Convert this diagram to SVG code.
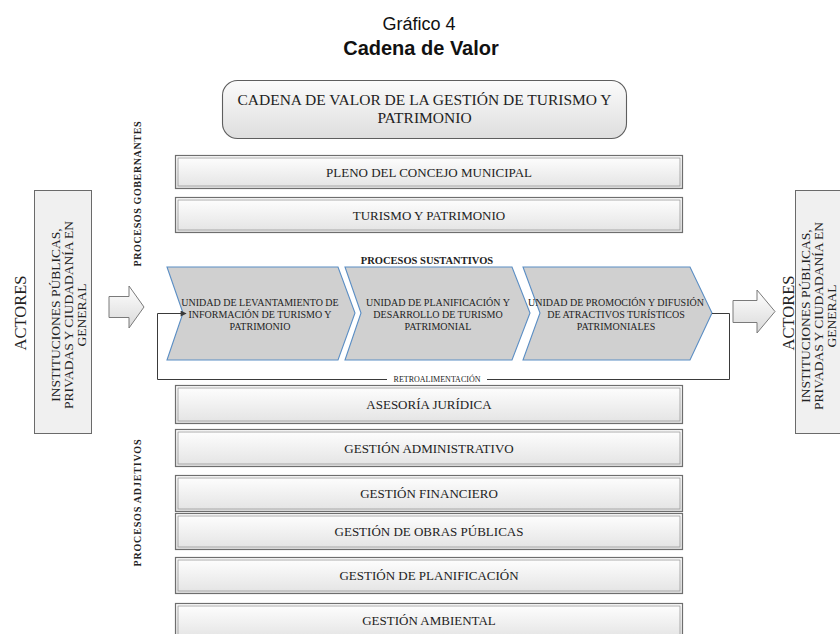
<svg xmlns="http://www.w3.org/2000/svg" width="840" height="634" viewBox="0 0 840 634">
<style>
.serif{font-family:"Liberation Serif","Times New Roman",serif;fill:#222}
.sans{font-family:"Liberation Sans",Arial,sans-serif;fill:#111}
.box{fill:url(#boxGrad);stroke:#6e6e6e;stroke-width:1.2}
.inner{fill:none;stroke:#9a9a9a;stroke-width:0.8}
.bt{font-size:13px;text-anchor:middle}
.chev{fill:#d0d0d0;stroke:#5b8ec4;stroke-width:1.1}
.ct{font-size:10px;text-anchor:middle}
.blk{fill:url(#arrGrad);stroke:#7a7a7a;stroke-width:1}
.actor{fill:#f0f0f0;stroke:#6a6a6a;stroke-width:1}
.vt{text-anchor:middle}
.fb{fill:none;stroke:#3a3a3a;stroke-width:1}
</style>
<defs>
<linearGradient id="boxGrad" x1="0" y1="0" x2="0" y2="1">
<stop offset="0" stop-color="#ffffff"/><stop offset="1" stop-color="#e3e3e3"/>
</linearGradient>
<linearGradient id="rrGrad" x1="0" y1="0" x2="0" y2="1">
<stop offset="0" stop-color="#fbfbfb"/><stop offset="1" stop-color="#dedede"/>
</linearGradient>
<linearGradient id="arrGrad" x1="0" y1="0" x2="0" y2="1">
<stop offset="0" stop-color="#ffffff"/><stop offset="1" stop-color="#d9d9d9"/>
</linearGradient>
<marker id="ah" viewBox="0 0 10 10" refX="9" refY="5" markerWidth="7" markerHeight="6" orient="auto" markerUnits="userSpaceOnUse">
<path d="M0,0 L10,5 L0,10 Z" fill="#3a3a3a"/>
</marker>
</defs>
<rect width="840" height="634" fill="#ffffff"/>

<g id="title">
<text class="sans" x="419" y="30" font-size="18" text-anchor="middle">Gráfico 4</text>
<text class="sans" x="421" y="55" font-size="20" font-weight="bold" text-anchor="middle">Cadena de Valor</text>
</g>

<g id="header">
<rect x="222.5" y="80.5" width="404" height="58" rx="15" ry="15" fill="url(#rrGrad)" stroke="#5e5e5e" stroke-width="1.1"/>
<text class="serif" x="424.5" y="105" font-size="15.5" text-anchor="middle">CADENA DE VALOR DE LA GESTIÓN DE TURISMO Y</text>
<text class="serif" x="424.5" y="123" font-size="15.5" text-anchor="middle">PATRIMONIO</text>
</g>

<g id="label-gobernantes">
<text class="serif vt" transform="translate(141,194) rotate(-90)" font-size="10" font-weight="bold" textLength="145" lengthAdjust="spacing">PROCESOS GOBERNANTES</text>
</g>
<g id="label-adjetivos">
<text class="serif vt" transform="translate(141,503) rotate(-90)" font-size="10" font-weight="bold" textLength="127" lengthAdjust="spacing">PROCESOS  ADJETIVOS</text>
</g>
<g id="label-sustantivos">
<text class="serif" x="427" y="263.5" font-size="10.5" font-weight="bold" text-anchor="middle">PROCESOS SUSTANTIVOS</text>
</g>

<g id="pleno">
<rect class="box" x="175.5" y="155.5" width="507" height="33"/>
<rect class="inner" x="178" y="158" width="502" height="28"/>
<text class="serif bt" x="429" y="176.5">PLENO DEL CONCEJO MUNICIPAL</text>
</g>
<g id="turismo">
<rect class="box" x="175.5" y="197.5" width="507" height="35"/>
<rect class="inner" x="178" y="200" width="502" height="30"/>
<text class="serif bt" x="429" y="220">TURISMO Y PATRIMONIO</text>
</g>

<g id="actores-left">
<text class="serif vt" transform="translate(26,313) rotate(-90)" font-size="16.5">ACTORES</text>
<rect class="actor" x="34.5" y="190.5" width="57" height="243"/>
<text class="serif vt" transform="translate(60,315) rotate(-90)" font-size="13.5">INSTITUCIONES PÚBLICAS,</text>
<text class="serif vt" transform="translate(73,315) rotate(-90)" font-size="13.5">PRIVADAS Y CIUDADANÍA EN</text>
<text class="serif vt" transform="translate(85.5,315) rotate(-90)" font-size="13.5">GENERAL</text>
</g>

<g id="actores-right">
<text class="serif vt" transform="translate(794,313) rotate(-90)" font-size="16.5">ACTORES</text>
<rect class="actor" x="795.5" y="190.5" width="60" height="243"/>
<text class="serif vt" transform="translate(809.5,316) rotate(-90)" font-size="13.5">INSTITUCIONES PÚBLICAS,</text>
<text class="serif vt" transform="translate(823,316) rotate(-90)" font-size="13.5">PRIVADAS Y CIUDADANÍA EN</text>
<text class="serif vt" transform="translate(836,316) rotate(-90)" font-size="13.5">GENERAL</text>
</g>

<g id="chevron-1">
<path class="chev" d="M167,267 L338,267 L355,313 L338,360 L167,360 L183,313 Z"/>
<text class="serif ct" x="260" y="305.5">UNIDAD DE LEVANTAMIENTO DE</text>
<text class="serif ct" x="260" y="317.5">INFORMACIÓN DE TURISMO Y</text>
<text class="serif ct" x="260" y="329.5">PATRIMONIO</text>
</g>
<g id="chevron-2">
<path class="chev" d="M345,267 L512,267 L530,313 L512,360 L345,360 L361,313 Z"/>
<text class="serif ct" x="438" y="305.5">UNIDAD DE PLANIFICACIÓN Y</text>
<text class="serif ct" x="438" y="317.5">DESARROLLO DE TURISMO</text>
<text class="serif ct" x="438" y="329.5">PATRIMONIAL</text>
</g>
<g id="chevron-3">
<path class="chev" d="M523,267 L690,267 L712,313 L690,360 L523,360 L540,313 Z"/>
<text class="serif ct" x="616" y="305.5">UNIDAD DE PROMOCIÓN Y DIFUSIÓN</text>
<text class="serif ct" x="616" y="317.5">DE ATRACTIVOS TURÍSTICOS</text>
<text class="serif ct" x="616" y="329.5">PATRIMONIALES</text>
</g>

<g id="connectors">
<path class="blk" d="M109,296.5 H129 V286 L144,307 L129,328 V317.5 H109 Z"/>
<path class="blk" d="M733,300.5 H757 V290 L775,311.5 L757,333 V322.5 H733 Z"/>
<path class="fb" d="M712,313.5 H729.5 V379.5 H157.5 V313.5 H186" marker-end="url(#ah)"/>
<rect x="387" y="374" width="100" height="10" fill="#ffffff"/>
<text class="serif" x="437" y="382" font-size="8" text-anchor="middle">RETROALIMENTACIÓN</text>
</g>

<g id="asesoria">
<rect class="box" x="175.5" y="385.5" width="507" height="38"/>
<rect class="inner" x="178" y="388" width="502" height="33"/>
<text class="serif bt" x="429" y="408.5">ASESORÍA JURÍDICA</text>
</g>
<g id="administrativo">
<rect class="box" x="175.5" y="429.5" width="507" height="37"/>
<rect class="inner" x="178" y="432" width="502" height="32"/>
<text class="serif bt" x="429" y="452.5">GESTIÓN ADMINISTRATIVO</text>
</g>
<g id="financiero">
<rect class="box" x="175.5" y="475.5" width="507" height="36"/>
<rect class="inner" x="178" y="478" width="502" height="31"/>
<text class="serif bt" x="429" y="498">GESTIÓN FINANCIERO</text>
</g>
<g id="obras">
<rect class="box" x="175.5" y="513.5" width="507" height="36"/>
<rect class="inner" x="178" y="516" width="502" height="31"/>
<text class="serif bt" x="429" y="535.5">GESTIÓN DE OBRAS PÚBLICAS</text>
</g>
<g id="planificacion">
<rect class="box" x="175.5" y="557.5" width="507" height="36"/>
<rect class="inner" x="178" y="560" width="502" height="31"/>
<text class="serif bt" x="429" y="579.5">GESTIÓN DE PLANIFICACIÓN</text>
</g>
<g id="ambiental">
<rect class="box" x="175.5" y="603.5" width="507" height="36"/>
<rect class="inner" x="178" y="606" width="502" height="31"/>
<text class="serif bt" x="429" y="625">GESTIÓN AMBIENTAL</text>
</g>
</svg>
